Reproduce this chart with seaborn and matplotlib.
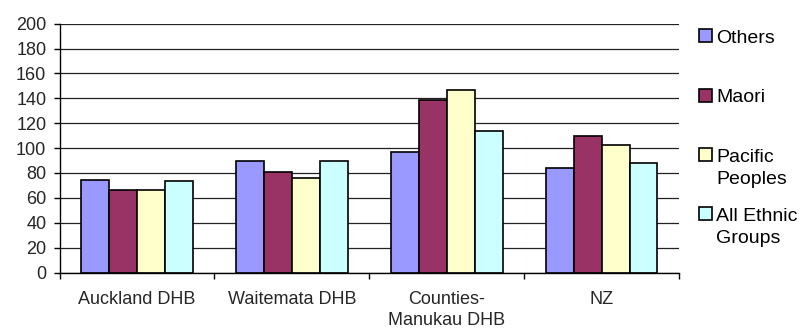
import numpy as np
import pandas as pd
import matplotlib
matplotlib.use("Agg")
import matplotlib.pyplot as plt
import matplotlib.patches as mpatches
import seaborn as sns

# Data
regions = ["Auckland DHB", "Waitemata DHB", "Counties-\nManukau DHB", "NZ"]
groups = ["Others", "Maori", "Pacific\nPeoples", "All Ethnic\nGroups"]
others = [74, 90, 96.5, 84]
maori = [66, 80.5, 139, 109.5]
pacific = [66, 76, 147, 102.5]
all_ethnic = [73.5, 90, 114, 88]

colors = ["#9999FF", "#993366", "#FFFFCC", "#CCFFFF"]

df = pd.DataFrame({
    "region": regions * 4,
    "group": np.repeat(groups, len(regions)),
    "value": others + maori + pacific + all_ethnic,
})

sns.set_theme(style="white")
plt.rcParams["font.family"] = ["Liberation Sans", "DejaVu Sans"]

W, H = 799, 328
fig = plt.figure(figsize=(W / 100, H / 100), dpi=100)
ax = fig.add_axes([0.0745, 0.169, 0.7755, 0.759])

sns.barplot(data=df, x="region", y="value", hue="group", order=regions,
            hue_order=groups, palette=colors, width=0.72, gap=0,
            edgecolor="black", linewidth=1.2, saturation=1, legend=False, ax=ax)

ax.set_ylim(0, 200)
ax.set_xlim(-0.5, len(regions) - 0.5)
ax.set_yticks(np.arange(0, 201, 20))
ax.yaxis.grid(True, color="#222222", linewidth=0.9)
ax.set_axisbelow(True)
ax.set_xlabel("")
ax.set_ylabel("")

for s in ["top", "right"]:
    ax.spines[s].set_visible(False)
for s in ["left", "bottom"]:
    ax.spines[s].set_color("black")
    ax.spines[s].set_linewidth(1.0)

ax.tick_params(axis="y", which="major", length=4.5, width=1, color="black",
               direction="out", labelsize=13, pad=5, left=True)
ax.tick_params(axis="x", which="major", length=0, labelsize=13, pad=13)
for lbl in ax.get_xticklabels():
    lbl.set_linespacing(1.3)
ax.set_xticks(np.arange(-0.5, len(regions)), minor=True)
ax.tick_params(axis="x", which="minor", length=4.5, width=1, color="black",
               direction="out", bottom=True)

# legend drawn by hand: equal slots, square aligned with first text line
slot_top = 29.3
slot_step = 59.3
for i, (g, c) in enumerate(zip(groups, colors)):
    y0 = slot_top + slot_step * i
    fig.add_artist(mpatches.Rectangle((698.5 / W, 1 - (y0 + 13) / H), 13 / W, 13 / H,
                                      transform=fig.transFigure, facecolor=c,
                                      edgecolor="black", linewidth=1.2))
    for j, line in enumerate(g.split("\n")):
        base = y0 + 13.7 + 22 * j
        fig.text(716 / W, 1 - base / H, line, fontsize=14, ha="left",
                 va="baseline", color="black")

fig.savefig("out.png", dpi=100)
